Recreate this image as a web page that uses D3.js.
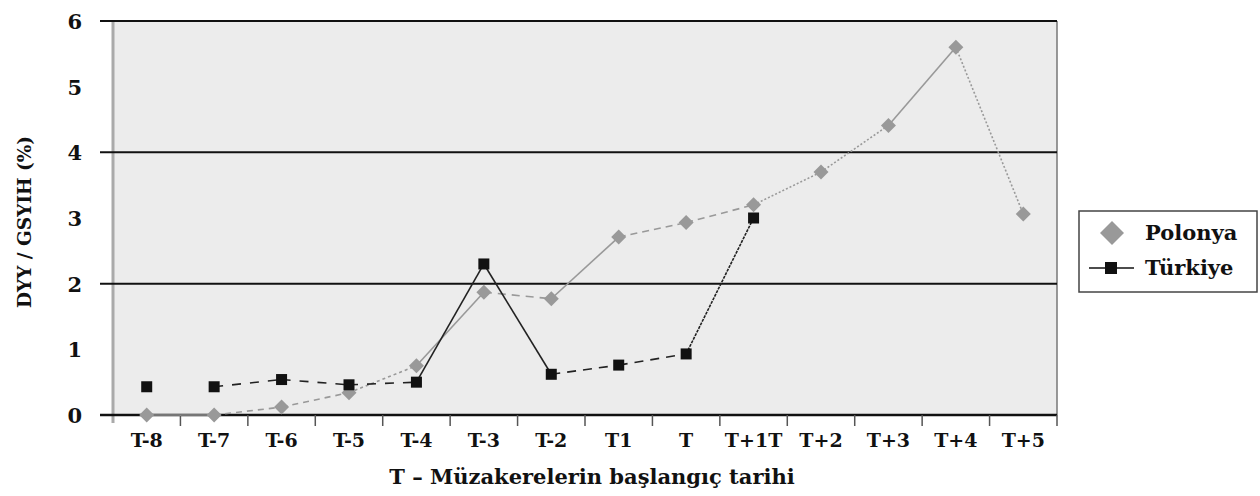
<!DOCTYPE html>
<html><head><meta charset="utf-8">
<script src="https://cdn.jsdelivr.net/npm/d3@7/dist/d3.min.js"></script>
<style>body{margin:0;background:#fff}svg{display:block}text{font-family:"DejaVu Serif","Liberation Serif",serif;font-weight:bold}</style>
</head><body><svg id="c" width="1260" height="496"></svg>
<script>
const categories = ["T-8","T-7","T-6","T-5","T-4","T-3","T-2","T1","T","T+1T","T+2","T+3","T+4","T+5"];
const polonya = [0, 0, 0.12, 0.34, 0.75, 1.87, 1.77, 2.71, 2.93, 3.2, 3.7, 4.41, 5.6, 3.06];
const turkiye = [0.43, 0.43, 0.54, 0.46, 0.5, 2.3, 0.62, 0.76, 0.93, 3.0, null, null, null, null];
const yTicks = [0, 1, 2, 3, 4, 5, 6];
const gridValues = [2, 4, 6];
// segment line styles (between consecutive categories)
const polonyaDash = ["", "6,5", "6,5", "3,3", "", "8,6", "", "7,5", "7,5", "2,2", "2,2", "", "2,2"];
const turkiyeDash = [null, "9,9", "9,9", "9,9", "", "", "9,7", "9,7", "3,1"];

const svg = d3.select("#c");
const L = 113, R = 1057, T = 21, B = 415;
const x = d3.scaleBand().domain(categories).range([L, R]);
const y = d3.scaleLinear().domain([0, 6]).range([B, T]);
const cx = d => x(d) + x.bandwidth() / 2;

svg.append("rect").attr("x", L).attr("y", T).attr("width", R - L).attr("height", B - T).attr("fill", "#ececec");
svg.append("line").attr("x1", R).attr("x2", R).attr("y1", T).attr("y2", B).attr("stroke", "#777").attr("stroke-width", 1.5);
svg.append("line").attr("x1", L).attr("x2", L).attr("y1", T).attr("y2", B + 8).attr("stroke", "#aaa").attr("stroke-width", 3);

svg.selectAll(".grid").data(gridValues).enter().append("line")
  .attr("x1", L - 13).attr("x2", R).attr("y1", d => y(d)).attr("y2", d => y(d))
  .attr("stroke", "#111").attr("stroke-width", 2);

const yAxis = d3.axisLeft(y).tickValues(yTicks).tickFormat(d3.format("d")).tickSize(0).tickPadding(31);
const yg = svg.append("g").attr("transform", `translate(${L},0)`).call(yAxis);
yg.select(".domain").remove();
yg.selectAll("text").attr("font-size", 21).attr("fill", "#111").attr("dy", "0.35em");

svg.append("line").attr("x1", L - 13).attr("x2", R).attr("y1", B).attr("y2", B).attr("stroke", "#111").attr("stroke-width", 2.5);
const xAxis = d3.axisBottom(x).tickSize(0).tickPadding(19);
const xg = svg.append("g").attr("transform", `translate(0,${B})`).call(xAxis);
xg.select(".domain").remove();
xg.selectAll("text").attr("font-size", 19).attr("fill", "#111");
svg.selectAll(".xtk").data(categories).enter().append("line")
  .attr("x1", (d, i) => L + (i + 1) * x.step()).attr("x2", (d, i) => L + (i + 1) * x.step())
  .attr("y1", B).attr("y2", B + 11).attr("stroke", "#555").attr("stroke-width", 1.5);

function drawSegments(vals, dashes, color, width) {
  for (let i = 0; i < vals.length - 1; i++) {
    if (vals[i] == null || vals[i + 1] == null || dashes[i] == null) continue;
    svg.append("path")
      .attr("d", d3.line()([[cx(categories[i]), y(vals[i])], [cx(categories[i + 1]), y(vals[i + 1])]]))
      .attr("stroke", color).attr("stroke-width", width).attr("fill", "none")
      .attr("stroke-dasharray", dashes[i] || null);
  }
}
drawSegments(polonya, polonyaDash, "#999", 1.6);
drawSegments(turkiye, turkiyeDash, "#222", 1.6);

const diamondPath = r => `M0,${-r}L${r},0L0,${r}L${-r},0Z`;
svg.selectAll(".pm").data(polonya).enter().append("path")
  .attr("d", diamondPath(7.5)).attr("transform", (d, i) => `translate(${cx(categories[i])},${y(d)})`)
  .attr("fill", "#999");
svg.selectAll(".tm").data(turkiye.filter(d => d != null)).enter().append("rect")
  .attr("x", (d, i) => cx(categories[i]) - 5.5).attr("y", d => y(d) - 5.5)
  .attr("width", 11).attr("height", 11).attr("fill", "#111");

svg.append("text").attr("x", 592).attr("y", 484).attr("text-anchor", "middle").attr("font-size", 21).attr("fill", "#111")
  .text("T – Müzakerelerin başlangıç tarihi");
svg.append("text").attr("transform", "translate(31,222) rotate(-90)").attr("text-anchor", "middle").attr("font-size", 18.5).attr("fill", "#111")
  .text("DYY / GSYIH (%)");

const lg = svg.append("g");
lg.append("rect").attr("x", 1079).attr("y", 211).attr("width", 178).attr("height", 81).attr("fill", "#fff").attr("stroke", "#444").attr("stroke-width", 1.5);
lg.append("path").attr("d", diamondPath(12)).attr("transform", "translate(1112,233)").attr("fill", "#999");
lg.append("text").attr("x", 1145).attr("y", 240).attr("font-size", 21).attr("fill", "#111").text("Polonya");
lg.append("line").attr("x1", 1089).attr("x2", 1134).attr("y1", 268).attr("y2", 268).attr("stroke", "#111").attr("stroke-width", 1.6);
lg.append("rect").attr("x", 1105).attr("y", 262).attr("width", 12).attr("height", 12).attr("fill", "#111");
lg.append("text").attr("x", 1145).attr("y", 275).attr("font-size", 21).attr("fill", "#111").text("Türkiye");
</script></body></html>
